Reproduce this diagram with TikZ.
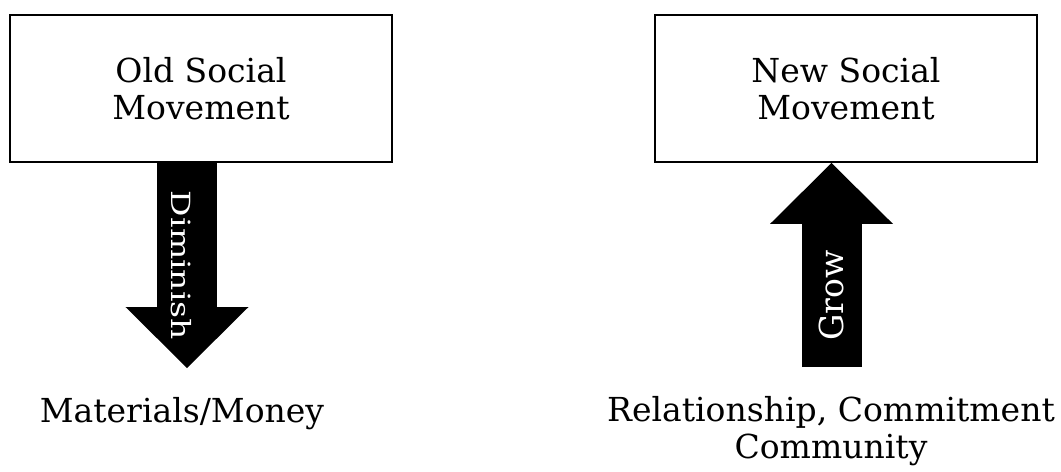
\documentclass[tikz,border=0pt]{standalone}
\usepackage{fontspec}
\usepackage{graphicx}
\setmainfont{DejaVu Serif}
\usetikzlibrary{arrows.meta}
\tikzset{
  socbox/.style={draw,line width=1.1pt,minimum width=7.64cm,minimum height=2.94cm,
    align=center,font=\fontsize{18.8}{21}\selectfont},
  bigarrow/.style={line width=1.2cm,-{Triangle[length=1.22cm,width=2.46cm,line width=0pt]}},
  arrtext/.style={text=white,inner sep=0pt,font=\fontsize{18.8}{21}\selectfont},
  bottomtext/.style={align=center,font=\fontsize{18.8}{21}\selectfont}
}
\begin{document}
\begin{tikzpicture}[x=0.2mm,y=-0.2mm]
\useasboundingbox (0,0) rectangle (1061,471);
\node[socbox] (oldbox) at (201,88.5) {Old Social\\Movement};
\node[socbox] (newbox) at (846,88.5) {New Social\\Movement};
\node[bottomtext] (matlabel) at (182,414) {Materials/Money};
\node[bottomtext] (rellabel) at (831,431) {Relationship, Commitment\\Community};
\coordinate (dimtip) at (187,368);
\coordinate (growbase) at (831.5,367);
%arrows
\draw[bigarrow] (oldbox.south -| dimtip) -- (dimtip)
  node[arrtext,midway,xshift=-1.2mm,rotate=-90] (dimtext) {\scalebox{1}[0.8]{Diminish}};
\draw[bigarrow] (growbase) -- (newbox.south -| growbase)
  node[arrtext,pos=0.35,rotate=90] (growtext) {Grow};
\end{tikzpicture}
\end{document}
